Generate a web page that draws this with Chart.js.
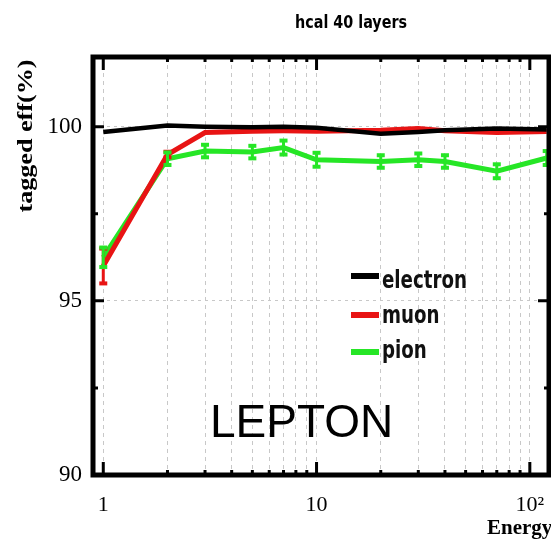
<!DOCTYPE html>
<html>
<head>
<meta charset="utf-8">
<script src="https://cdn.jsdelivr.net/npm/chart.js@4/dist/chart.umd.min.js"></script>
<style>
  html, body { margin: 0; padding: 0; background: #fff; }
  #wrap { width: 551px; height: 558px; }
</style>
</head>
<body>
<div id="wrap"><canvas id="effChart" width="551" height="558"></canvas></div>
<script>
// energy points and tagged efficiencies (%)
const energy = [1, 2, 3, 5, 7, 10, 20, 30, 40, 70, 120];
const electronEff = [99.85, 100.03, 100.0, 99.98, 100.0, 99.97, 99.8, 99.85, 99.9, 99.95, 99.92];
const muonEff = [96.0, 99.2, 99.83, 99.87, 99.88, 99.87, 99.9, 99.95, 99.88, 99.83, 99.86];
const pionEff = [96.25, 99.08, 99.3, 99.27, 99.4, 99.05, 99.0, 99.05, 99.0, 98.72, 99.1];
const muonErr = [0.5, 0.08, 0, 0, 0, 0, 0, 0, 0, 0, 0];
const pionErr = [0.28, 0.18, 0.18, 0.18, 0.2, 0.2, 0.18, 0.18, 0.18, 0.2, 0.2];

const xGridValues = [1, 2, 3, 4, 5, 6, 7, 8, 9, 10, 20, 30, 40, 50, 60, 70, 80, 90, 100];
const xLabels = { 1: '1', 10: '10', 100: '10\u00b2' };
const yTickValues = [90, 95, 100];
const yMinorValues = [92.5, 97.5];

const legendNames = ['electron', 'muon', 'pion'];
const colors = ['#000000', '#e81414', '#26e626'];

function pts(vals) {
  return energy.map((e, i) => ({ x: e, y: vals[i] }));
}

// error bars drawn through the chart scales
const errorBars = {
  id: 'errorBars',
  afterDatasetsDraw(chart) {
    const ctx = chart.ctx;
    const xs = chart.scales.x, ys = chart.scales.y;
    chart.data.datasets.forEach((ds) => {
      if (!ds.errors) return;
      ctx.save();
      ctx.strokeStyle = ds.borderColor;
      ctx.fillStyle = ds.borderColor;
      ctx.lineWidth = 3;
      ds.data.forEach((p, i) => {
        const err = ds.errors[i];
        if (!err) return;
        const px = xs.getPixelForValue(p.x);
        const top = ys.getPixelForValue(p.y + err);
        const bot = ys.getPixelForValue(p.y - err);
        ctx.beginPath();
        ctx.moveTo(px, top);
        ctx.lineTo(px, bot);
        ctx.stroke();
        ctx.fillRect(px - 4, top - 2, 8, 4);
        ctx.fillRect(px - 4, bot - 2, 8, 4);
      });
      ctx.restore();
    });
  }
};

// thick frame with inward ticks, plus texts and legend
const frameAndText = {
  id: 'frameAndText',
  afterDraw(chart) {
    const ctx = chart.ctx;
    const a = chart.chartArea;
    const xs = chart.scales.x, ys = chart.scales.y;
    ctx.save();
    ctx.strokeStyle = '#000';
    ctx.lineWidth = 5;
    ctx.strokeRect(a.left, a.top, a.right - a.left, a.bottom - a.top);

    ctx.lineWidth = 3;
    xGridValues.forEach((v) => {
      const px = xs.getPixelForValue(v);
      const len = xLabels[v] ? 13 : 5;
      ctx.beginPath();
      ctx.moveTo(px, a.bottom);
      ctx.lineTo(px, a.bottom - len);
      ctx.moveTo(px, a.top);
      ctx.lineTo(px, a.top + len);
      ctx.stroke();
    });
    yTickValues.concat(yMinorValues).forEach((v) => {
      const py = ys.getPixelForValue(v);
      const len = yTickValues.includes(v) ? 11 : 5;
      ctx.beginPath();
      ctx.moveTo(a.left, py);
      ctx.lineTo(a.left + len, py);
      ctx.moveTo(a.right, py);
      ctx.lineTo(a.right - len, py);
      ctx.stroke();
    });

    ctx.fillStyle = '#000';
    // title
    ctx.font = 'bold 17px "Liberation Sans Narrow", "DejaVu Sans Condensed", "Liberation Sans", sans-serif';
    ctx.textAlign = 'center';
    ctx.textBaseline = 'alphabetic';
    ctx.save();
    ctx.translate(351, 28);
    ctx.scale(112 / ctx.measureText('hcal 40 layers').width, 1);
    ctx.fillText('hcal 40 layers', 0, 0);
    ctx.restore();

    // y axis title
    ctx.save();
    ctx.translate(32, 136);
    ctx.rotate(-Math.PI / 2);
    ctx.font = 'bold 20px "Liberation Serif", "DejaVu Serif", serif';
    const yt = 'tagged eff(%)';
    ctx.scale(153 / ctx.measureText(yt).width, 1);
    ctx.textAlign = 'center';
    ctx.fillText(yt, 0, 0);
    ctx.restore();

    // x axis title
    ctx.font = 'bold 21px "Liberation Serif", "DejaVu Serif", serif';
    ctx.textAlign = 'left';
    ctx.fillText('Energy', 487, 534);

    // big label
    ctx.font = '46px "Liberation Sans", Arial, sans-serif';
    ctx.fillText('LEPTON', 210, 437);

    // legend
    const lineY = [276, 315, 352];
    const textY = [288, 323, 358];
    ctx.font = 'bold 25px "Liberation Sans Narrow", "DejaVu Sans Condensed", "Liberation Sans", sans-serif';
    const sx = 85 / ctx.measureText('electron').width;
    legendNames.forEach((name, i) => {
      ctx.strokeStyle = colors[i];
      ctx.lineWidth = 6;
      ctx.beginPath();
      ctx.moveTo(351, lineY[i]);
      ctx.lineTo(379, lineY[i]);
      ctx.stroke();
      ctx.fillStyle = '#111';
      ctx.save();
      ctx.translate(382, textY[i]);
      ctx.scale(sx, 1);
      ctx.fillText(name, 0, 0);
      ctx.restore();
    });
    ctx.restore();
  }
};

function noPad(scale) {
  scale.paddingLeft = 0;
  scale.paddingRight = 0;
  scale.paddingTop = 0;
  scale.paddingBottom = 0;
}

const ctx = document.getElementById('effChart').getContext('2d');
const effChart = new Chart(ctx, {
  type: 'line',
  data: {
    datasets: [
      {
        label: legendNames[0],
        data: pts(electronEff),
        borderColor: colors[0],
        borderWidth: 4.5,
        pointRadius: 0,
        tension: 0,
        fill: false
      },
      {
        label: legendNames[1],
        data: pts(muonEff),
        errors: muonErr,
        borderColor: colors[1],
        borderWidth: 5,
        pointRadius: 0,
        tension: 0,
        fill: false
      },
      {
        label: legendNames[2],
        data: pts(pionEff),
        errors: pionErr,
        borderColor: colors[2],
        borderWidth: 5,
        pointRadius: 0,
        tension: 0,
        fill: false
      }
    ]
  },
  options: {
    responsive: false,
    animation: false,
    layout: { autoPadding: false, padding: { top: 57, right: 2, left: 0, bottom: 0 } },
    plugins: {
      legend: { display: false },
      tooltip: { enabled: false },
      title: { display: false }
    },
    scales: {
      x: {
        type: 'logarithmic',
        min: 0.895,
        max: 123,
        afterBuildTicks: (scale) => {
          scale.ticks = xGridValues.map((v) => ({ value: v }));
        },
        afterFit: (scale) => { scale.height = 83; noPad(scale); },
        ticks: {
          autoSkip: false,
          maxRotation: 0,
          padding: 17,
          color: '#000',
          font: { family: '"Liberation Serif", "DejaVu Serif", serif', size: 22 },
          callback: (v) => xLabels[v] || ''
        },
        grid: { color: '#c8c8c8', lineWidth: 1, drawTicks: false },
        border: { display: false, dash: [4, 4] }
      },
      y: {
        min: 90,
        max: 102,
        afterBuildTicks: (scale) => {
          scale.ticks = yTickValues.map((v) => ({ value: v }));
        },
        afterFit: (scale) => { scale.width = 93; noPad(scale); },
        ticks: {
          padding: 11,
          color: '#000',
          font: { family: '"Liberation Serif", "DejaVu Serif", serif', size: 23 }
        },
        grid: { color: '#c8c8c8', lineWidth: 1, drawTicks: false },
        border: { display: false, dash: [3, 4] }
      }
    }
  },
  plugins: [errorBars, frameAndText]
});
</script>
</body>
</html>
